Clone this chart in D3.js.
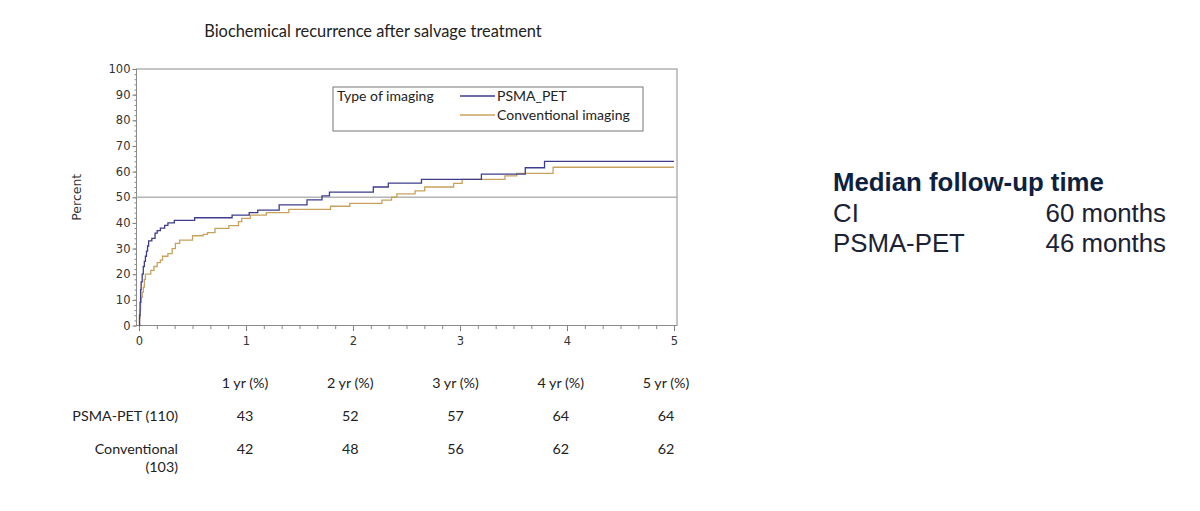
<!DOCTYPE html>
<html>
<head>
<meta charset="utf-8">
<script src="https://cdn.jsdelivr.net/npm/d3@7"></script>
<style>
  body { margin: 0; background: #fff; }
  svg { display: block; }
</style>
</head>
<body>
<svg id="chart" width="1200" height="511"></svg>
<script>
// step data: [years, cumulative % after step]
const psmaSteps = [[0,0],[0.005,4],[0.01,9],[0.015,14],[0.02,17],[0.03,20],[0.04,23],[0.05,25],[0.06,27],
  [0.07,29],[0.08,31],[0.09,33],[0.12,34],[0.15,36],[0.17,37],[0.2,38],[0.24,39],[0.27,40],[0.33,41],
  [0.52,42],[0.87,43],[1.03,44],[1.11,45],[1.31,47],[1.57,49],[1.71,50.5],[1.78,52],[2.19,54],
  [2.33,55.5],[2.64,57],[3.2,59],[3.61,61.5],[3.79,64],[5,64]]
const convSteps = [[0,0],[0.005,3],[0.01,6],[0.015,9],[0.02,11],[0.03,13],[0.04,15],[0.05,18],[0.06,20],
  [0.11,21.5],[0.14,23],[0.17,24.5],[0.2,25.5],[0.22,27],[0.27,28],[0.31,30],[0.34,32],[0.38,33.3],
  [0.5,35],[0.6,35.5],[0.64,36.2],[0.71,37.9],[0.84,38.9],[0.93,40.5],[0.96,41.8],[1.04,43],[1.19,44],
  [1.4,45.3],[1.79,46.5],[1.97,47.6],[2.27,48.9],[2.36,50],[2.41,51.3],[2.58,52.5],[2.67,54],
  [2.94,55.4],[3.02,57],[3.42,58.3],[3.53,59.3],[3.87,61.7],[5,61.7]]

const seriesNames = ['PSMA_PET', 'Conventional imaging']
const seriesColors = ['#3d3d8c', '#c8a25c']
const refLine = 50

const yTicks = [0,10,20,30,40,50,60,70,80,90,100]
const xTicks = [0,1,2,3,4,5]

const tableCols = [1,2,3,4,5]
const tableHead = ['1 yr (%)','2 yr (%)','3 yr (%)','4 yr (%)','5 yr (%)']
const psmaRow = [43,52,57,64,64]
const convRow = [42,48,56,62,62]

const svg = d3.select('#chart')

let x = d3.scaleLinear().domain([0,5]).range([139,674])
let y = d3.scaleLinear().domain([0,100]).range([325.5,69])

const tickFont = '"DejaVu Sans", Verdana, sans-serif'
const textFont = 'Lato, "Open Sans", sans-serif'

// title
svg.append('text')
    .attr('x', 373).attr('y', 37)
    .attr('text-anchor', 'middle')
    .style('font-family', textFont).style('font-size', '16.4px').style('fill', '#222')
    .text('Biochemical recurrence after salvage treatment')

// frame
svg.append('rect')
    .attr('x', 136.5).attr('y', y(100))
    .attr('width', 677 - 136.5).attr('height', y(0) - y(100))
    .style('fill', 'none').style('stroke', '#8a8a8a').style('stroke-width', 1)

// y axis
let yAxis = d3.axisLeft(y).tickValues(yTicks).tickSize(4).tickPadding(2)
let gy = svg.append('g').attr('transform', 'translate(136.5,0)').call(yAxis)
gy.select('.domain').remove()
gy.selectAll('line').style('stroke', '#777')
gy.selectAll('text').style('font-family', tickFont).style('font-size', '11.5px').style('fill', '#333')

let yMinor = d3.axisLeft(y).tickValues(d3.range(0, 101, 2)).tickSize(2).tickFormat('')
let gym = svg.append('g').attr('transform', 'translate(136.5,0)').call(yMinor)
gym.select('.domain').remove()
gym.selectAll('line').style('stroke', '#888')

// x axis
let xAxis = d3.axisBottom(x).tickValues(xTicks).tickSize(5).tickPadding(6).tickFormat(d3.format('d'))
let gx = svg.append('g').attr('transform', `translate(0,${y(0) + 0.5})`).call(xAxis)
gx.select('.domain').remove()
gx.selectAll('line').style('stroke', '#777')
gx.selectAll('text').style('font-family', tickFont).style('font-size', '11.5px').style('fill', '#333')

let xMinor = d3.axisBottom(x).tickValues(d3.range(0, 31).map(d => d / 6)).tickSize(3).tickFormat('')
let gxm = svg.append('g').attr('transform', `translate(0,${y(0) + 0.5})`).call(xMinor)
gxm.select('.domain').remove()
gxm.selectAll('line').style('stroke', '#888')

// y label
svg.append('text')
    .attr('transform', `translate(81,${y(50)}) rotate(-90)`)
    .attr('text-anchor', 'middle')
    .style('font-family', tickFont).style('font-size', '12.5px').style('fill', '#333')
    .text('Percent')

// reference line
svg.append('line')
    .attr('x1', 136.5).attr('x2', 677)
    .attr('y1', y(refLine)).attr('y2', y(refLine))
    .style('stroke', '#b4b4b4').style('stroke-width', 1.3)

// curves
let line = d3.line().x(d => x(d[0])).y(d => y(d[1])).curve(d3.curveStepAfter)

svg.selectAll('path.km')
    .data([convSteps, psmaSteps])
    .join('path')
    .attr('class', 'km')
    .attr('d', line)
    .style('fill', 'none')
    .style('stroke', (d, i) => i == 0 ? seriesColors[1] : seriesColors[0])
    .style('stroke-width', 1.3)

// legend
let leg = svg.append('g')
leg.append('rect')
    .attr('x', 333).attr('y', 87).attr('width', 310).attr('height', 44)
    .style('fill', '#fff').style('stroke', '#777').style('stroke-width', 1)
leg.append('text')
    .attr('x', 337).attr('y', 101)
    .style('font-family', textFont).style('font-size', '14px').style('fill', '#222')
    .text('Type of imaging')
seriesNames.forEach((name, i) => {
    leg.append('line')
        .attr('x1', 460).attr('x2', 495)
        .attr('y1', 96 + i * 19).attr('y2', 96 + i * 19)
        .style('stroke', seriesColors[i]).style('stroke-width', 1.3)
    leg.append('text')
        .attr('x', 497).attr('y', 101 + i * 19)
        .style('font-family', textFont).style('font-size', '14px').style('fill', '#222')
        .text(name)
})

// table below chart
let tx = d3.scaleLinear().domain([1,5]).range([245,666])
let tableFont = { 'font-family': textFont, 'font-size': '14.3px', 'fill': '#222' }
function styled(sel) {
    Object.entries(tableFont).forEach(([k, v]) => sel.style(k, v))
    return sel
}

styled(svg.append('g').selectAll('text').data(tableHead).join('text')
    .attr('x', (d, i) => tx(tableCols[i])).attr('y', 388)
    .attr('text-anchor', 'middle').text(d => d))

styled(svg.append('g').selectAll('text').data(psmaRow).join('text')
    .attr('x', (d, i) => tx(tableCols[i])).attr('y', 421)
    .attr('text-anchor', 'middle').text(d => d))

styled(svg.append('g').selectAll('text').data(convRow).join('text')
    .attr('x', (d, i) => tx(tableCols[i])).attr('y', 454)
    .attr('text-anchor', 'middle').text(d => d))

styled(svg.append('text').attr('x', 178).attr('y', 421).attr('text-anchor', 'end').text('PSMA-PET (110)'))
styled(svg.append('text').attr('x', 178).attr('y', 454).attr('text-anchor', 'end').text('Conventional'))
styled(svg.append('text').attr('x', 178).attr('y', 472).attr('text-anchor', 'end').text('(103)'))

// follow-up block
const fuLabels = ['CI', 'PSMA-PET']
const fuValues = ['60 months', '46 months']
let fu = svg.append('g').style('font-family', '"Liberation Sans", Arial, sans-serif').style('font-size', '25.8px')
fu.append('text').attr('x', 833).attr('y', 191)
    .style('font-weight', 'bold').style('fill', '#0e1f3f')
    .text('Median follow-up time')
fuLabels.forEach((d, i) => {
    fu.append('text').attr('x', 833).attr('y', 221.5 + i * 30).style('fill', '#1b2236').text(d)
    fu.append('text').attr('x', 1166).attr('y', 221.5 + i * 30).attr('text-anchor', 'end').style('fill', '#1b2236').text(fuValues[i])
})
</script>
</body>
</html>
